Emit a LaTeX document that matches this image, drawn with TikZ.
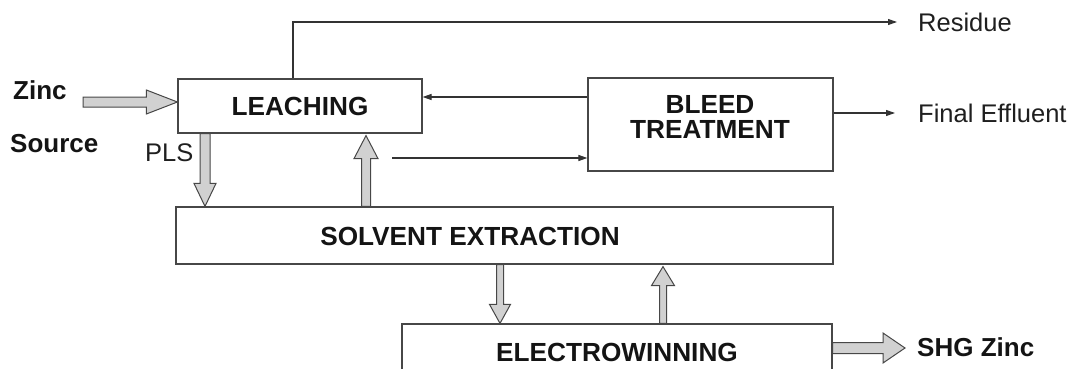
\documentclass[tikz,border=0pt]{standalone}
\usepackage{fontspec}
\setmainfont{Liberation Sans}
\usetikzlibrary{arrows.meta,calc}
\tikzset{
 box/.style={draw=black!72, line width=1.2pt, inner sep=0pt},
 lbl/.style={font=\fontsize{26.2}{25.5}\selectfont\bfseries, text=black!92, inner sep=0pt, align=center},
 txt/.style={font=\fontsize{25.5}{25.5}\selectfont, text=black!88, inner sep=0pt, anchor=west},
 bold txt/.style={txt, text=black!92, font=\fontsize{26}{25.5}\selectfont\bfseries},
 thinarrow/.style={draw=black!80, line width=1.1pt, -{Triangle[length=9pt,width=6pt]}},
 fatline/.style={draw=black!72, fill=black!18, line width=1pt, line join=miter},
}
\newcommand\fatarrow[5]{% start, end, half shaft, half head, head length
 \path[fatline] let \p1=(#1), \p2=(#2), \n1={atan2(\y2-\y1,\x2-\x1)}, \n2={veclen(\x2-\x1,\y2-\y1)} in
 {[shift={(\p1)}, rotate=\n1] (0pt,-#3pt) -- (\n2-#5pt,-#3pt) -- (\n2-#5pt,-#4pt) -- (\n2,0pt) -- (\n2-#5pt,#4pt) -- (\n2-#5pt,#3pt) -- (0pt,#3pt) -- cycle};
}
\begin{document}
\begin{tikzpicture}[x=1pt,y=-1pt]
\useasboundingbox (0,0) rectangle (1074,369);
\clip (0,0) rectangle (1074,369);
% boxes
\node[box, lbl, minimum width=244pt, minimum height=54pt] (leach) at (300,106) {LEACHING};
\node[box, minimum width=245pt, minimum height=93pt] (bleed) at (710.5,124.5) {};
\node[lbl] (bleedtxt) at (710,117) {BLEED\\TREATMENT};
\node[box, minimum width=657pt, minimum height=57pt] (sx) at (504.5,235.5) {};
\node[lbl] (sxtxt) at (470,236) {SOLVENT EXTRACTION};
\node[box, lbl, minimum width=430pt, minimum height=56pt] (ew) at (617,352) {ELECTROWINNING};
% texts
\node[bold txt] (zinc) at (13,90.5) {Zinc};
\node[bold txt] (source) at (10,143.5) {Source};
\node[txt] (pls) at (145,152.5) {PLS};
\node[txt] (residue) at (918,22) {Residue};
\node[txt] (effl) at (918,113) {Final Effluent};
\node[bold txt] (shg) at (917,347.5) {SHG Zinc};
% coordinates
\coordinate (resup) at (293,22);
\coordinate (b1) at (588,97);
\coordinate (r1) at (392,158);
\coordinate (zs) at (83,102);
\coordinate (plsx) at (205,0);
\coordinate (upx) at (366,0);
\coordinate (dnx) at (500,0);
\coordinate (up2x) at (663,0);
\coordinate (shgy) at (0,348);
% thin arrows
\draw[thinarrow] (resup |- leach.north) -- (resup) -- ([xshift=-21pt]residue.west);
\draw[thinarrow] (bleed.east |- effl) -- ([xshift=-23pt]effl.west);
\draw[thinarrow] (bleed.west |- b1) -- (leach.east |- b1);
\draw[thinarrow] (r1) -- (r1 -| bleed.west);
% fat arrows
\fatarrow{zs}{leach.west |- zs}{5}{12}{31}
\fatarrow{plsx |- leach.south}{plsx |- sx.north}{5}{11}{23}
\fatarrow{upx |- sx.north}{$(upx |- leach.south)+(0,2)$}{4.5}{12}{23}
\fatarrow{dnx |- sx.south}{dnx |- ew.north}{3.5}{10.5}{19}
\fatarrow{up2x |- ew.north}{$(up2x |- sx.south)+(0,2)$}{3.5}{11.5}{19}
\fatarrow{ew.east |- shgy}{$(shg.west |- shgy)+(-12,0)$}{5.5}{15}{22}
\end{tikzpicture}
\end{document}
